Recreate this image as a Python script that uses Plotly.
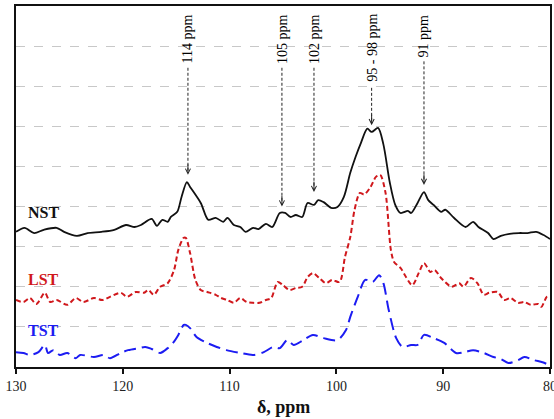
import plotly.graph_objects as go

# ---- data ----
nst_x = [130, 129.2, 128.3, 127.4, 126.2, 125.5, 124.3, 123.3, 122.0, 120.8, 119.7, 118.9, 118.3, 117.3,
         116.8, 116.3, 115.8, 115.5, 114.9, 114.5, 114.0, 113.7, 112.7, 112.0, 111.3, 110.6, 110.2, 109.6,
         109.0, 108.5, 107.8, 107.3, 106.6, 106.0, 105.3, 104.8, 104.3, 103.8, 103.2, 102.7, 102.1, 101.7,
         101.2, 100.5, 99.9, 99.3, 98.7, 98.2, 97.7, 97.1, 96.7, 96.1, 95.6, 95.0, 94.5, 94.0, 93.3, 93.0,
         92.4, 91.8, 91.4, 90.9, 90.2, 89.8, 89.0, 87.9, 87.2, 86.7, 85.8, 85.3, 84.6, 83.8, 82.9, 82.1,
         81.3, 80.6, 80.0]
nst_y = [3.37, 3.47, 3.34, 3.42, 3.47, 3.37, 3.27, 3.34, 3.37, 3.42, 3.54, 3.49, 3.54, 3.69,
         3.52, 3.67, 3.62, 3.74, 3.87, 4.24, 4.61, 4.49, 4.09, 3.67, 3.72, 3.62, 3.72, 3.54,
         3.49, 3.37, 3.47, 3.44, 3.57, 3.49, 3.84, 3.84, 3.74, 3.79, 3.74, 4.09, 4.04, 4.16,
         4.11, 3.97, 3.99, 4.24, 4.84, 5.24, 5.59, 5.94, 5.86, 5.96, 5.55, 4.60, 4.05, 3.84, 3.89, 3.84,
         4.09, 4.36, 4.16, 4.04, 3.87, 3.92, 3.72, 3.49, 3.62, 3.49, 3.34, 3.19, 3.27, 3.32, 3.34, 3.34,
         3.37, 3.29, 3.19]

lst_x = [130, 129.3, 128.7, 128.1, 127.3, 126.8, 126.2, 125.2, 124.4, 123.7, 122.7, 121.9, 121.2, 120.2,
         119.6, 118.8, 118.0, 117.6, 117.1, 116.5, 115.8, 115.2, 114.8, 114.3, 114.1, 113.7, 113.2, 112.7,
         112.1, 111.3, 110.8, 110.2, 109.6, 109.0, 108.4, 107.8, 107.2, 106.6, 106.1, 105.5, 105.0, 104.4,
         103.8, 103.2, 102.7, 102.2, 101.6, 101.0, 100.4, 99.7, 99.2, 98.7, 98.3, 97.8, 97.4, 96.8, 96.3,
         95.9, 95.4, 94.9, 94.6, 94.0, 92.9, 92.3, 91.8, 91.2, 90.8, 90.2, 89.2, 88.5, 88.1, 87.4, 86.8,
         86.2, 85.7, 84.9, 84.3, 83.7, 83.0, 82.4, 81.8, 81.1, 80.8, 80.3, 80.0]
lst_y = [1.67, 1.62, 1.72, 1.57, 1.85, 1.62, 1.67, 1.55, 1.72, 1.62, 1.72, 1.67, 1.75, 1.85,
         1.75, 1.87, 1.85, 1.92, 1.80, 2.00, 2.09, 2.42, 2.92, 3.22, 3.22, 2.84, 2.17, 1.92,
         1.87, 1.80, 1.72, 1.67, 1.60, 1.72, 1.62, 1.60, 1.60, 1.67, 1.72, 2.12, 2.04, 1.92,
         1.97, 2.00, 2.24, 2.34, 2.22, 2.09, 2.17, 2.12, 2.74, 3.24, 3.92, 4.34, 4.30, 4.49, 4.74,
         4.79, 4.34, 2.92, 2.62, 2.47, 2.04, 2.34, 2.59, 2.37, 2.42, 2.22, 2.00, 2.09, 2.00, 2.22, 2.09,
         1.80, 1.85, 1.87, 1.67, 1.72, 1.60, 1.62, 1.55, 1.57, 1.50, 1.75, 1.75]

tst_x = [130, 129.3, 128.7, 127.9, 127.3, 127.0, 126.5, 125.9, 125.2, 124.4, 124.0, 122.7, 121.8, 121.2,
         120.2, 119.5, 118.5, 117.9, 117.3, 116.5, 115.8, 115.3, 114.8, 114.3, 114.1, 113.7, 113.1, 112.1,
         111.2, 110.3, 109.0, 107.8, 106.8, 105.9, 105.3, 104.6, 104.0, 103.1, 102.2, 101.2, 99.9, 99.1,
         98.7, 98.0, 97.3, 96.6, 96.0, 95.6, 95.1, 94.4, 93.8, 93.0, 92.4, 91.8, 90.9, 89.9, 88.8, 88.0,
         87.2, 86.2, 85.3, 84.6, 83.9, 83.0, 82.4, 81.5, 80.7, 80.1]
tst_y = [0.37, 0.35, 0.30, 0.37, 0.55, 0.35, 0.42, 0.30, 0.35, 0.22, 0.30, 0.25, 0.30, 0.22,
         0.35, 0.42, 0.47, 0.50, 0.45, 0.35, 0.47, 0.60, 0.80, 1.05, 1.05, 0.97, 0.75, 0.60,
         0.50, 0.42, 0.35, 0.30, 0.37, 0.50, 0.47, 0.67, 0.55, 0.67, 0.80, 0.72, 0.67, 0.92,
         1.25, 1.75, 2.17, 2.12, 2.29, 2.09, 1.42, 0.72, 0.50, 0.55, 0.55, 0.80, 0.72, 0.60, 0.35, 0.37,
         0.42, 0.35, 0.25, 0.20, 0.10, 0.17, 0.25, 0.17, 0.12, 0.05]

series_names = ["NST", "LST", "TST"]
series_label_y = [3.84, 2.19, 0.92]

peak_labels = ["114 ppm", "105 ppm", "102 ppm", "95 - 98 ppm", "91 ppm"]
peak_x = [113.9, 105.1, 102.1, 96.7, 91.8]
peak_arrow_start = [7.46, 7.46, 7.46, 6.96, 7.62]
peak_arrow_tip = [4.79, 4.00, 4.36, 6.03, 4.54]

x_ticks = [130, 120, 110, 100, 90, 80]

FONT = "Liberation Serif, Times New Roman, serif"
colors = ["#111111", "#d0181c", "#1c1cf2"]

fig = go.Figure()
fig.add_trace(go.Scatter(x=nst_x, y=nst_y, mode="lines", line=dict(color=colors[0], width=1.8),
                         line_shape="spline", line_smoothing=0.8, showlegend=False))
fig.add_trace(go.Scatter(x=lst_x, y=lst_y, mode="lines",
                         line=dict(color=colors[1], width=2, dash="5px,3px"),
                         line_shape="spline", line_smoothing=0.8, showlegend=False))
fig.add_trace(go.Scatter(x=tst_x, y=tst_y, mode="lines",
                         line=dict(color=colors[2], width=2, dash="12px,6px"),
                         line_shape="spline", line_smoothing=0.8, showlegend=False))

for name, yy, c in zip(series_names, series_label_y, colors):
    fig.add_annotation(x=129.1, y=yy, xref="x", yref="y", text="<b>%s</b>" % name,
                       showarrow=False, xanchor="left", yanchor="middle",
                       font=dict(family=FONT, size=16, color=c))

for lab, px, y0, y1 in zip(peak_labels, peak_x, peak_arrow_start, peak_arrow_tip):
    fig.add_annotation(x=px, y=8.85, xref="x", yref="y", text=lab, textangle=-90,
                       showarrow=False, xanchor="center", yanchor="top",
                       font=dict(family=FONT, size=14, color="#000000"))
    fig.add_shape(type="line", x0=px, x1=px, y0=y0, y1=y1 + 0.05, xref="x", yref="y",
                  line=dict(color="#222222", width=1, dash="3px,2px"))
    fig.add_annotation(x=px, y=y1, xref="x", yref="y", ax=0, ay=-12, text="",
                       showarrow=True, arrowhead=5, arrowsize=1, arrowwidth=1,
                       arrowcolor="#222222")

# x-axis title placed below the tick labels
fig.add_annotation(x=0.5, y=-0.111, xref="paper", yref="paper", text="<b>δ, ppm</b>",
                   showarrow=False, xanchor="center", yanchor="middle",
                   font=dict(family=FONT, size=18, color="#111111"))

fig.update_layout(
    width=554, height=419,
    margin=dict(l=16, r=4, t=6, b=52, autoexpand=False),
    paper_bgcolor="white", plot_bgcolor="white",
    font=dict(family=FONT, size=14, color="#222222"),
    showlegend=False,
)
fig.update_xaxes(range=[130, 80], tickvals=x_ticks, ticktext=[str(t) for t in x_ticks],
                 ticks="outside", ticklen=5, tickwidth=1.5, tickcolor="#111111",
                 showgrid=False, zeroline=False, showline=True, linecolor="#111111",
                 linewidth=2, mirror=True, automargin=False, ticklabeloverflow="allow",
                 tickfont=dict(family=FONT, size=14, color="#222222"))
fig.update_yaxes(range=[0, 9], dtick=1, showticklabels=False, ticks="",
                 showgrid=True, gridcolor="#c8c8c8", griddash="dash", gridwidth=1,
                 zeroline=False, showline=True, linecolor="#111111", linewidth=2, mirror=True,
                 automargin=False)

fig.write_html("out.html", config={"displayModeBar": False},
               post_script="document.body.style.margin='0';document.body.style.overflow='hidden';")
